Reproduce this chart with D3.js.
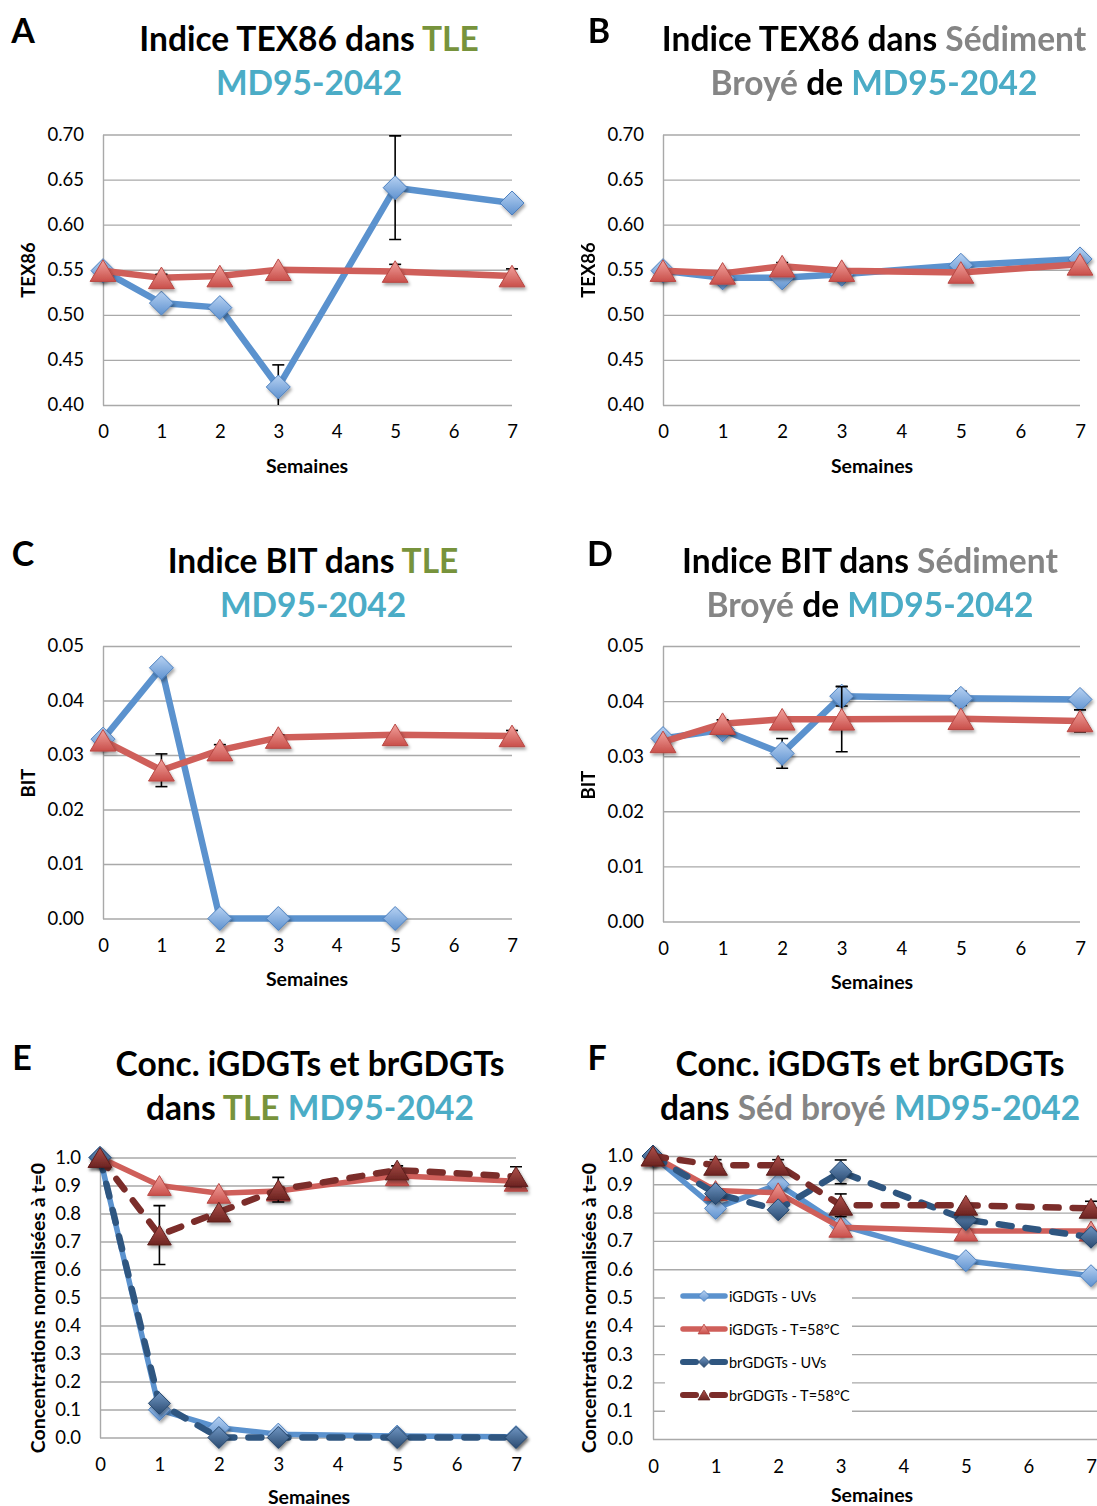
<!DOCTYPE html>
<html>
<head>
<meta charset="utf-8">
<script src="https://cdn.jsdelivr.net/npm/d3@7"></script>
<style>
  body { margin: 0; background: #fff; }
  svg { display: block; }
</style>
</head>
<body>
<script>
// ---- Data -------------------------------------------------------------
const weeks = [0, 1, 2, 3, 5, 7];
const weeksBitTleUV = [0, 1, 2, 3, 5];
const xTickValues = [0, 1, 2, 3, 4, 5, 6, 7];
const texTicks = [0.40, 0.45, 0.50, 0.55, 0.60, 0.65, 0.70];
const bitTicks = [0.00, 0.01, 0.02, 0.03, 0.04, 0.05];
const concTicks = [0.0, 0.1, 0.2, 0.3, 0.4, 0.5, 0.6, 0.7, 0.8, 0.9, 1.0];

// A: TEX86 in TLE
const texTleUV = [0.549, 0.513, 0.508, 0.420, 0.641, 0.624];
const texTleUVErr = [0, 0, 0, 0.0245, 0.0575, 0];
const texTle58 = [0.549, 0.541, 0.543, 0.550, 0.548, 0.543];
const texTle58Err = [0, 0.004, 0, 0, 0.008, 0.008];

// B: TEX86 in ground sediment
const texSedUV = [0.549, 0.541, 0.541, 0.545, 0.555, 0.562];
const texSedUVErr = [0, 0, 0, 0, 0, 0];
const texSed58 = [0.549, 0.546, 0.554, 0.549, 0.547, 0.556];
const texSed58Err = [0, 0, 0.004, 0, 0, 0];

// C: BIT in TLE
const bitTleUV = [0.0329, 0.0460, 0, 0, 0];
const bitTleUVErr = [0, 0, 0, 0, 0];
const bitTle58 = [0.0327, 0.0272, 0.0309, 0.0332, 0.0337, 0.0335];
const bitTle58Err = [0, 0.0030, 0.0010, 0.0005, 0, 0.0010];

// D: BIT in ground sediment
const bitSedUV = [0.0332, 0.0348, 0.0305, 0.0409, 0.0405, 0.0403];
const bitSedUVErr = [0, 0, 0.0027, 0.0018, 0.0013, 0];
const bitSed58 = [0.0326, 0.0359, 0.0367, 0.0367, 0.0368, 0.0364];
const bitSed58Err = [0, 0.0007, 0, 0.0059, 0, 0.0020];

// E: normalised concentrations in TLE
const concTleIUV = [1.0, 0.099, 0.035, 0.012, 0.005, 0.003];
const concTleI58 = [1.0, 0.900, 0.872, 0.880, 0.935, 0.915];
const concTleBrUV = [1.0, 0.122, 0.0, 0.0, 0.0, 0.0];
const concTleBr58 = [1.0, 0.723, 0.805, 0.885, 0.955, 0.932];
const concTleBr58Err = [0, 0.105, 0, 0.044, 0.015, 0.035];

// F: normalised concentrations in ground sediment
const concSedIUV = [1.0, 0.815, 0.900, 0.755, 0.630, 0.577];
const concSedI58 = [1.0, 0.878, 0.870, 0.748, 0.735, 0.735];
const concSedBrUV = [1.0, 0.867, 0.810, 0.944, 0.775, 0.713];
const concSedBrUVErr = [0, 0, 0, 0.042, 0, 0];
const concSedBr58 = [1.0, 0.967, 0.967, 0.826, 0.826, 0.815];
const concSedBr58Err = [0, 0.020, 0.020, 0.040, 0, 0.025];

const legendLabels = ["iGDGTs - UVs", "iGDGTs - T=58°C", "brGDGTs - UVs", "brGDGTs - T=58°C"];

// ---- Styles -----------------------------------------------------------
const C_BLACK = "#000000", C_GREEN = "#77933C", C_GREY = "#858585", C_CYAN = "#4BACC6";
const FONT = "Lato, 'Open Sans', sans-serif";

const svg = d3.select("body").append("svg")
  .attr("width", 1097).attr("height", 1506)
  .style("font-family", FONT);

const defs = svg.append("defs");
function gradient(id, top, bottom) {
  const lg = defs.append("linearGradient").attr("id", id)
    .attr("x1", 0).attr("y1", 0).attr("x2", 0).attr("y2", 1);
  lg.append("stop").attr("offset", "0%").attr("stop-color", top);
  lg.append("stop").attr("offset", "100%").attr("stop-color", bottom);
}
gradient("gBlue", "#B6D1F2", "#5F92CF");
gradient("gRed", "#F2A29D", "#C94F4A");
gradient("gDBlue", "#6F95C2", "#2A4A70");
gradient("gDRed", "#B0504B", "#6C2421");

const shadow = defs.append("filter").attr("id", "shadow")
  .attr("x", "-50%").attr("y", "-50%").attr("width", "200%").attr("height", "200%");
shadow.append("feDropShadow").attr("dx", 1.5).attr("dy", 2.5)
  .attr("stdDeviation", 1.8).attr("flood-color", "#000").attr("flood-opacity", 0.35);

const style = {
  uvLight:   { line: "#5B92CE", dash: null,    marker: "diamond",  fill: "url(#gBlue)",  edge: "#4B7FBE" },
  heatLight: { line: "#CF5F5A", dash: null,    marker: "triangle", fill: "url(#gRed)",   edge: "#B84844" },
  uvDark:    { line: "#2F5680", dash: "13,14", marker: "diamond",  fill: "url(#gDBlue)", edge: "#24466C" },
  heatDark:  { line: "#7B2D2A", dash: "13,14", marker: "triangle", fill: "url(#gDRed)",  edge: "#5E1F1D" }
};

function markerPath(type, r) {
  if (type === "diamond") {
    return `M0,${-r}L${r},0L0,${r}L${-r},0Z`;
  }
  const w = r * 2.15, h = r * 1.8;
  return `M0,${-h / 2}L${w / 2},${h / 2}L${-w / 2},${h / 2}Z`;
}

let clipId = 0;
function drawPanel(p) {
  const g = svg.append("g");
  const x = d3.scaleLinear().domain([0, 7]).range([p.left, p.right]);
  const y = d3.scaleLinear().domain(p.yDomain).range([p.bottom, p.top]);
  const gridRight = p.gridRight !== undefined ? p.gridRight : p.right;

  // horizontal gridlines + y tick labels
  const yAxis = g.append("g").attr("transform", `translate(${p.left},0)`)
    .call(d3.axisLeft(y).tickValues(p.yTicks).tickFormat(p.fmt)
      .tickSizeInner(-(gridRight - p.left)).tickSizeOuter(0).tickPadding(p.left - p.labelRight));
  yAxis.selectAll(".tick line").attr("stroke", "#A9A9A9").attr("stroke-width", 1.4);
  yAxis.select(".domain").attr("stroke", "#A9A9A9").attr("stroke-width", 1.4);
  yAxis.selectAll(".tick text").attr("font-size", 18.5).attr("fill", "#000")
    .attr("font-family", FONT);

  // x tick labels
  const xAxis = g.append("g").attr("transform", `translate(0,${p.xLabelY})`)
    .call(d3.axisBottom(x).tickValues(xTickValues).tickFormat(d3.format("d"))
      .tickSize(0).tickPadding(0));
  xAxis.select(".domain").remove();
  xAxis.selectAll(".tick text").attr("font-size", 18.5).attr("fill", "#000")
    .attr("font-family", FONT).attr("dy", "0.35em");

  // axis titles
  g.append("text").attr("x", p.xTitle[0]).attr("y", p.xTitle[1])
    .attr("text-anchor", "middle").attr("dominant-baseline", "central")
    .attr("font-weight", 700).attr("font-size", 19.5).text("Semaines");
  g.append("text")
    .attr("transform", `translate(${p.yTitle[0]},${p.yTitle[1]}) rotate(-90)`)
    .attr("text-anchor", "middle").attr("dominant-baseline", "central")
    .attr("font-weight", 700).attr("font-size", p.yTitleSize || 18.5).text(p.yLabel);

  // panel letter
  g.append("text").attr("x", p.letterPos[0]).attr("y", p.letterPos[1])
    .attr("text-anchor", "middle").attr("font-weight", 700).attr("font-size", 34)
    .text(p.letter);

  // two-line coloured title
  p.title.forEach((line, i) => {
    const t = g.append("text").attr("x", p.titleX).attr("y", p.titleY[i])
      .attr("text-anchor", "middle").attr("font-weight", 700).attr("font-size", 33.5);
    line.forEach(([txt, col]) => t.append("tspan").attr("fill", col).text(txt));
  });

  // clip region for error bars
  const cid = "clip" + (clipId++);
  defs.append("clipPath").attr("id", cid).append("rect")
    .attr("x", p.left - 20).attr("y", p.top - 2)
    .attr("width", gridRight - p.left + 40).attr("height", p.bottom - p.top + 2);

  p.series.forEach(s => {
    const st = style[s.style];
    const lw = st.dash ? p.dashWidth || p.lineWidth : p.lineWidth;
    const pts = s.x.map((w, i) => ({ w, v: s.y[i], e: s.err ? s.err[i] : 0 }));
    g.append("path").datum(pts)
      .attr("d", d3.line().x(d => x(d.w)).y(d => y(d.v)))
      .attr("fill", "none").attr("stroke", st.line).attr("stroke-width", lw)
      .attr("stroke-linejoin", "round").attr("stroke-linecap", "round")
      .attr("stroke-dasharray", st.dash);

    const eb = g.append("g").attr("clip-path", `url(#${cid})`)
      .selectAll("g").data(pts.filter(d => d.e > 0)).join("g")
      .attr("stroke", "#000").attr("stroke-width", 1.6);
    eb.append("line").attr("x1", d => x(d.w)).attr("x2", d => x(d.w))
      .attr("y1", d => y(d.v + d.e)).attr("y2", d => y(d.v - d.e));
    eb.append("line").attr("x1", d => x(d.w) - 6).attr("x2", d => x(d.w) + 6)
      .attr("y1", d => y(d.v + d.e)).attr("y2", d => y(d.v + d.e));
    eb.append("line").attr("x1", d => x(d.w) - 6).attr("x2", d => x(d.w) + 6)
      .attr("y1", d => y(d.v - d.e)).attr("y2", d => y(d.v - d.e));

    g.append("g").attr("filter", "url(#shadow)")
      .selectAll("path").data(pts).join("path")
      .attr("transform", d => `translate(${x(d.w)},${y(d.v)})`)
      .attr("d", markerPath(st.marker, p.markerR))
      .attr("fill", st.fill).attr("stroke", st.edge).attr("stroke-width", 1);
  });

  if (p.legend) {
    const L = p.legend;
    g.append("rect").attr("x", L.x).attr("y", L.y).attr("width", L.w).attr("height", L.h)
      .attr("fill", "#fff");
    p.series.forEach((s, i) => {
      const st = style[s.style];
      const yy = L.y + L.first + i * L.step;
      const lg = g.append("g");
      if (st.dash) {
        lg.append("line").attr("x1", L.lineX0).attr("x2", L.lineX0 + 13).attr("y1", yy).attr("y2", yy)
          .attr("stroke", st.line).attr("stroke-width", 6).attr("stroke-linecap", "round");
        lg.append("line").attr("x1", L.lineX1 - 13).attr("x2", L.lineX1).attr("y1", yy).attr("y2", yy)
          .attr("stroke", st.line).attr("stroke-width", 6).attr("stroke-linecap", "round");
      } else {
        lg.append("line").attr("x1", L.lineX0).attr("x2", L.lineX1).attr("y1", yy).attr("y2", yy)
          .attr("stroke", st.line).attr("stroke-width", 5.5).attr("stroke-linecap", "round");
      }
      lg.append("path").attr("transform", `translate(${(L.lineX0 + L.lineX1) / 2},${yy})`)
        .attr("d", markerPath(st.marker, 5.5))
        .attr("fill", st.fill).attr("stroke", st.edge).attr("stroke-width", 0.8);
      lg.append("text").attr("x", L.textX).attr("y", yy).attr("dominant-baseline", "central")
        .attr("font-size", 14.5).attr("fill", "#000").text(legendLabels[i]);
    });
  }
}

const f2 = d3.format(".2f"), f1 = d3.format(".1f");

drawPanel({
  letter: "A", letterPos: [23, 43],
  title: [[["Indice TEX86 dans ", C_BLACK], ["TLE", C_GREEN]], [["MD95-2042", C_CYAN]]],
  titleX: 309, titleY: [51, 95],
  left: 103, right: 512, top: 134.5, bottom: 405, labelRight: 84,
  yDomain: [0.40, 0.70], yTicks: texTicks, fmt: f2,
  xLabelY: 432, xTitle: [307, 465], yTitle: [28, 270], yLabel: "TEX86",
  lineWidth: 6.5, markerR: 12,
  series: [
    { style: "uvLight", x: weeks, y: texTleUV, err: texTleUVErr },
    { style: "heatLight", x: weeks, y: texTle58, err: texTle58Err }
  ]
});

drawPanel({
  letter: "B", letterPos: [599, 43],
  title: [[["Indice TEX86 dans ", C_BLACK], ["Sédiment", C_GREY]],
          [["Broyé", C_GREY], [" de ", C_BLACK], ["MD95-2042", C_CYAN]]],
  titleX: 874, titleY: [51, 95],
  left: 663, right: 1080, top: 134.5, bottom: 405, labelRight: 644,
  yDomain: [0.40, 0.70], yTicks: texTicks, fmt: f2,
  xLabelY: 432, xTitle: [872, 465], yTitle: [588, 270], yLabel: "TEX86",
  lineWidth: 6.5, markerR: 12,
  series: [
    { style: "uvLight", x: weeks, y: texSedUV, err: texSedUVErr },
    { style: "heatLight", x: weeks, y: texSed58, err: texSed58Err }
  ]
});

drawPanel({
  letter: "C", letterPos: [23, 566],
  title: [[["Indice BIT dans ", C_BLACK], ["TLE", C_GREEN]], [["MD95-2042", C_CYAN]]],
  titleX: 313, titleY: [573, 617],
  left: 103, right: 512, top: 646, bottom: 918.5, labelRight: 84,
  yDomain: [0, 0.05], yTicks: bitTicks, fmt: f2,
  xLabelY: 946, xTitle: [307, 978], yTitle: [28, 783], yLabel: "BIT",
  lineWidth: 6.5, markerR: 12,
  series: [
    { style: "uvLight", x: weeksBitTleUV, y: bitTleUV, err: bitTleUVErr },
    { style: "heatLight", x: weeks, y: bitTle58, err: bitTle58Err }
  ]
});

drawPanel({
  letter: "D", letterPos: [600, 566],
  title: [[["Indice BIT dans ", C_BLACK], ["Sédiment", C_GREY]],
          [["Broyé", C_GREY], [" de ", C_BLACK], ["MD95-2042", C_CYAN]]],
  titleX: 870, titleY: [573, 617],
  left: 663, right: 1080, top: 646, bottom: 921.5, labelRight: 644,
  yDomain: [0, 0.05], yTicks: bitTicks, fmt: f2,
  xLabelY: 949, xTitle: [872, 981], yTitle: [588, 785], yLabel: "BIT",
  lineWidth: 6.5, markerR: 12,
  series: [
    { style: "uvLight", x: weeks, y: bitSedUV, err: bitSedUVErr },
    { style: "heatLight", x: weeks, y: bitSed58, err: bitSed58Err }
  ]
});

drawPanel({
  letter: "E", letterPos: [22, 1070],
  title: [[["Conc. iGDGTs et brGDGTs", C_BLACK]],
          [["dans ", C_BLACK], ["TLE", C_GREEN], [" ", C_BLACK], ["MD95-2042", C_CYAN]]],
  titleX: 310, titleY: [1076, 1120],
  left: 100, right: 516, top: 1157.5, bottom: 1437.5, labelRight: 81,
  yDomain: [0, 1], yTicks: concTicks, fmt: f1,
  xLabelY: 1465, xTitle: [309, 1496], yTitle: [37, 1308], yLabel: "Concentrations normalisées à t=0",
  yTitleSize: 19.5,
  lineWidth: 5.5, dashWidth: 6.5, markerR: 11,
  series: [
    { style: "uvLight", x: weeks, y: concTleIUV },
    { style: "heatLight", x: weeks, y: concTleI58 },
    { style: "uvDark", x: weeks, y: concTleBrUV },
    { style: "heatDark", x: weeks, y: concTleBr58, err: concTleBr58Err }
  ]
});

drawPanel({
  letter: "F", letterPos: [597, 1070],
  title: [[["Conc. iGDGTs et brGDGTs", C_BLACK]],
          [["dans ", C_BLACK], ["Séd broyé", C_GREY], [" ", C_BLACK], ["MD95-2042", C_CYAN]]],
  titleX: 870, titleY: [1076, 1120],
  left: 653, right: 1091, gridRight: 1100, top: 1156, bottom: 1439, labelRight: 633,
  yDomain: [0, 1], yTicks: concTicks, fmt: f1,
  xLabelY: 1467, xTitle: [872, 1494], yTitle: [588, 1308], yLabel: "Concentrations normalisées à t=0",
  yTitleSize: 19.5,
  lineWidth: 5.5, dashWidth: 6.5, markerR: 11,
  legend: { x: 665, y: 1280, w: 187, h: 132, first: 16, step: 33,
            lineX0: 683, lineX1: 725, textX: 729 },
  series: [
    { style: "uvLight", x: weeks, y: concSedIUV },
    { style: "heatLight", x: weeks, y: concSedI58 },
    { style: "uvDark", x: weeks, y: concSedBrUV, err: concSedBrUVErr },
    { style: "heatDark", x: weeks, y: concSedBr58, err: concSedBr58Err }
  ]
});
</script>
</body>
</html>
